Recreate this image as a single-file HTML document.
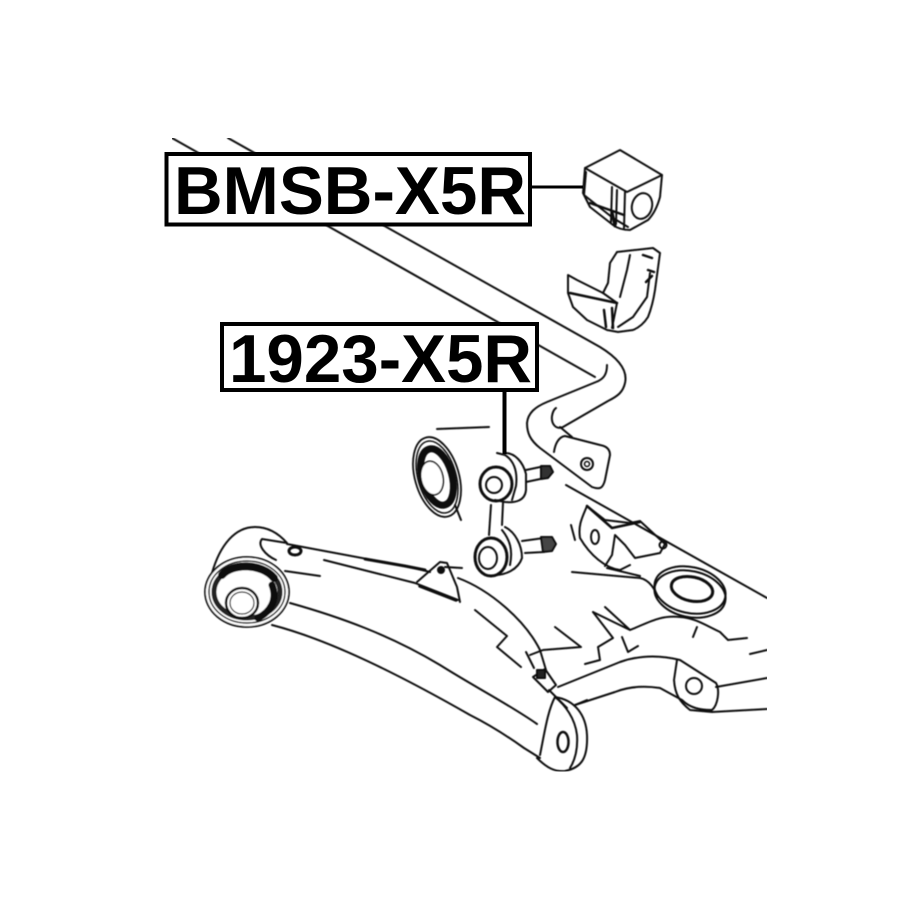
<!DOCTYPE html>
<html><head><meta charset="utf-8"><style>
html,body{margin:0;padding:0;background:#fff;width:915px;height:915px;overflow:hidden}
svg{display:block}
text{font-family:"Liberation Sans",sans-serif;font-weight:bold;font-size:68px;fill:#000}
</style></head><body>
<svg width="915" height="915" viewBox="0 0 915 915">
<defs><filter id="b" x="0" y="0" width="100%" height="100%"><feGaussianBlur stdDeviation="0.55"/></filter></defs>
<rect width="915" height="915" fill="#fff"/>
<g filter="url(#b)" fill="none" stroke="#111" stroke-width="2" stroke-linecap="round" stroke-linejoin="round">
<!-- bar -->
<path d="M228 138L600 347C618 358 628 370 625 383C623 392 618 396 608 401L563 427C556 430 551 424 552 416Q553 410 556 408"/>
<path d="M172 138L595 377"/>
<path d="M607 365C607 374 604 379 596 382L547 402C535 407 528 413 527 423C527 433 530 440 540 448L592 487C600 490 603 488 605 480L610 455C610 449 606 446 600 445L565 436C558 437 555 445 554 452"/>
<path d="M560 427L572 437"/>
<circle cx="587" cy="464" r="6"/><circle cx="587" cy="464" r="2.5" stroke-width="1.500"/>
<!-- bushing -->
<path d="M585 168L620 150L662 175L660 197C657 208 653 215 648 220L630 230C622 230 617 228 613 225L590 207L583 193Z"/>
<path d="M585 168L627 192L662 175"/>
<path d="M586 172L584 195L613 218L628 227"/>
<path d="M612 187L611 222M617 190L616 224M625 192L624 228"/>
<ellipse cx="642" cy="206" rx="10" ry="13" transform="rotate(15 642 206)"/>
<path d="M590 203L624 215" stroke-width="2.500"/><path d="M612 212L615 226" stroke-width="3"/>
<!-- bracket -->
<path d="M617 252L653 248L660 253L655 290C653 303 650 312 648 317C643 325 638 328 633 330L618 332L607 330L587 320L573 307L568 293L568 275L577 280L603 293"/>
<path d="M617 252L610 263L608 283L603 293"/>
<path d="M570 293L617 303" stroke-width="2.500"/>
<path d="M603 293L617 303L612 328"/>
<path d="M630 255L627 270L620 297"/>
<path d="M650 273L647 297L633 317L618 327"/>
<path d="M604 310L606 327M612 308L613 328" stroke-width="2.500"/>
<path d="M643 255L652 258M648 270L654 272M646 282L652 276" stroke-width="2.500"/>
<!-- bushing ring -->
<path d="M437 429L489 427"/>
<ellipse cx="437" cy="477" rx="22" ry="41" transform="rotate(-16 437 477)" stroke-width="1.800"/>
<ellipse cx="437" cy="477" rx="19" ry="37" transform="rotate(-16 437 477)" stroke-width="1.500"/>
<ellipse cx="437" cy="477" rx="15" ry="29" transform="rotate(-16 437 477)" stroke-width="7"/>
<ellipse cx="432" cy="478" rx="11" ry="17" transform="rotate(-12 432 478)" fill="#fff" stroke-width="1.500"/>
<path d="M455 505L461 520"/>
<!-- link top -->
<path d="M505 453C515 453 523 462 526 474L526 490C525 501 515 503 505 502L495 500"/>
<path d="M497 453L505 455C513 460 518 470 516 486L512 500"/>
<ellipse cx="496" cy="484" rx="16" ry="17" stroke-width="3"/>
<circle cx="494" cy="485" r="8"/>
<path d="M526 470L545 466M526 482L545 478"/>
<path d="M541 466L550 466L553 472L548 478L541 479Z" fill="#333"/>
<path d="M491 505L489 535M503 503L502 525"/>
<!-- link bottom -->
<path d="M505 527C515 532 522 545 522 558C518 570 505 575 495 575"/>
<path d="M502 530C510 540 513 550 510 565"/>
<ellipse cx="491" cy="557" rx="16" ry="19" stroke-width="3"/>
<ellipse cx="488" cy="558" rx="9" ry="11"/>
<path d="M522 541L544 538M525 553L544 552"/>
<path d="M541 537L552 537L556 544L552 551L543 552Z" fill="#444"/>
<!-- frame -->
<path d="M566 485L767 598"/>
<path d="M587 506C582 518 578 525 580 538C590 555 605 568 620 570L630 565"/>
<path d="M587 506L605 520L630 523L640 521L665 544L660 553L635 558L625 545L615 535L612 555L605 566"/>
<path d="M587 506L612 528L640 522" stroke-width="2.500"/>
<ellipse cx="595" cy="537" rx="4" ry="7"/><circle cx="663" cy="545" r="3.500"/>
<path d="M571 525L575 540"/>
<path d="M572 572L640 578C650 580 655 590 658 597"/>
<path d="M607 568L640 576"/>
<ellipse cx="690" cy="590" rx="36" ry="23" transform="rotate(12 690 590)" stroke-width="2"/>
<ellipse cx="690" cy="594" rx="36" ry="23" transform="rotate(12 690 594)"/>
<ellipse cx="692" cy="589" rx="21" ry="12" transform="rotate(12 692 589)" stroke-width="3"/>
<path d="M593 612L630 630M605 607L630 630C650 622 660 615 680 617C695 618 705 625 720 632L728 640L747 638M697 627L693 637"/>
<path d="M750 654L767 650"/>
<path d="M555 627L581 647L543 650L530 655M593 612L613 638L598 647L600 660L585 664M622 637L628 652L638 646"/>
<path d="M558 687L620 662C640 655 660 655 680 660L716 683C720 690 718 705 712 710C700 710 690 708 682 700L660 688C640 685 625 688 615 692L575 705"/>
<path d="M677 660L674 680C675 695 680 702 690 710L712 712L767 709M716 687L767 678"/>
<circle cx="694" cy="686" r="8"/>
<!-- control arm -->
<path d="M212 573C220 545 235 527 255 527C270 527 280 535 287 543L262 539C257 545 265 555 276 560"/>
<path d="M287 544L410 567L430 572"/>
<path d="M365 559L405 566L425 570" stroke-width="3"/>
<path d="M324 560L415 583L458 600" stroke-width="2"/>
<path d="M417 582L440 562L447 563L457 587L460 602" stroke-width="2"/>
<path d="M420 586L456 600" stroke-width="3.500"/>
<circle cx="441" cy="570" r="3" fill="#111"/><path d="M445 567L462 568"/>
<path d="M458 578C490 590 525 620 540 650L546 670"/>
<path d="M475 610L507 636L497 647L521 667"/>
<path d="M526 652L534 668"/>
<path d="M533 677L545 669L556 685L548 692Z"/><rect x="537" y="670" width="8" height="8" fill="#222"/>
<path d="M549 690L567 708"/>
<ellipse cx="295" cy="551" rx="6" ry="4" stroke-width="3"/>
<path d="M285 571L320 576"/>
<path d="M290 603C340 617 390 635 440 665C480 690 510 705 537 724"/>
<path d="M272 625C330 640 400 675 470 715C490 725 510 738 524 748L540 758"/>
<path d="M537 758C547 768 555 772 565 771C580 768 588 760 587 735C586 715 575 700 555 697"/>
<path d="M540 755C545 730 548 710 555 697C565 705 575 718 577 735C578 750 575 760 570 768"/>
<ellipse cx="563" cy="742" rx="5.500" ry="10" stroke-width="2.500"/>
<path d="M575 705L587 700"/>
<ellipse cx="247" cy="592" rx="42" ry="35" fill="#fff" stroke-width="1.800"/>
<ellipse cx="247" cy="592" rx="38" ry="31" stroke-width="1.500"/>
<ellipse cx="247" cy="592" rx="33" ry="26" stroke-width="5" stroke="#222"/>
<path d="M222 575C232 563 262 563 274 578" stroke-width="8"/>
<path d="M272 585C278 600 270 612 258 618" stroke-width="7"/>
<ellipse cx="242" cy="603" rx="16" ry="15" fill="#fff" stroke-width="2.500"/>
<ellipse cx="242" cy="603" rx="12" ry="11" stroke-width="1.200"/>
</g>
<!-- labels -->
<g fill="none" stroke="#000">
<path d="M532 187H583" stroke-width="3"/>
<path d="M504.500 391V454" stroke-width="4"/>
</g>
<rect x="166.500" y="154" width="363.500" height="70.500" fill="#fff" stroke="#000" stroke-width="4"/>
<rect x="222" y="324" width="315" height="66" fill="#fff" stroke="#000" stroke-width="4"/>
<text x="174" y="214" textLength="352" lengthAdjust="spacingAndGlyphs">BMSB-X5R</text>
<text x="229" y="382" textLength="303" lengthAdjust="spacingAndGlyphs">1923-X5R</text>
</svg>
</body></html>
